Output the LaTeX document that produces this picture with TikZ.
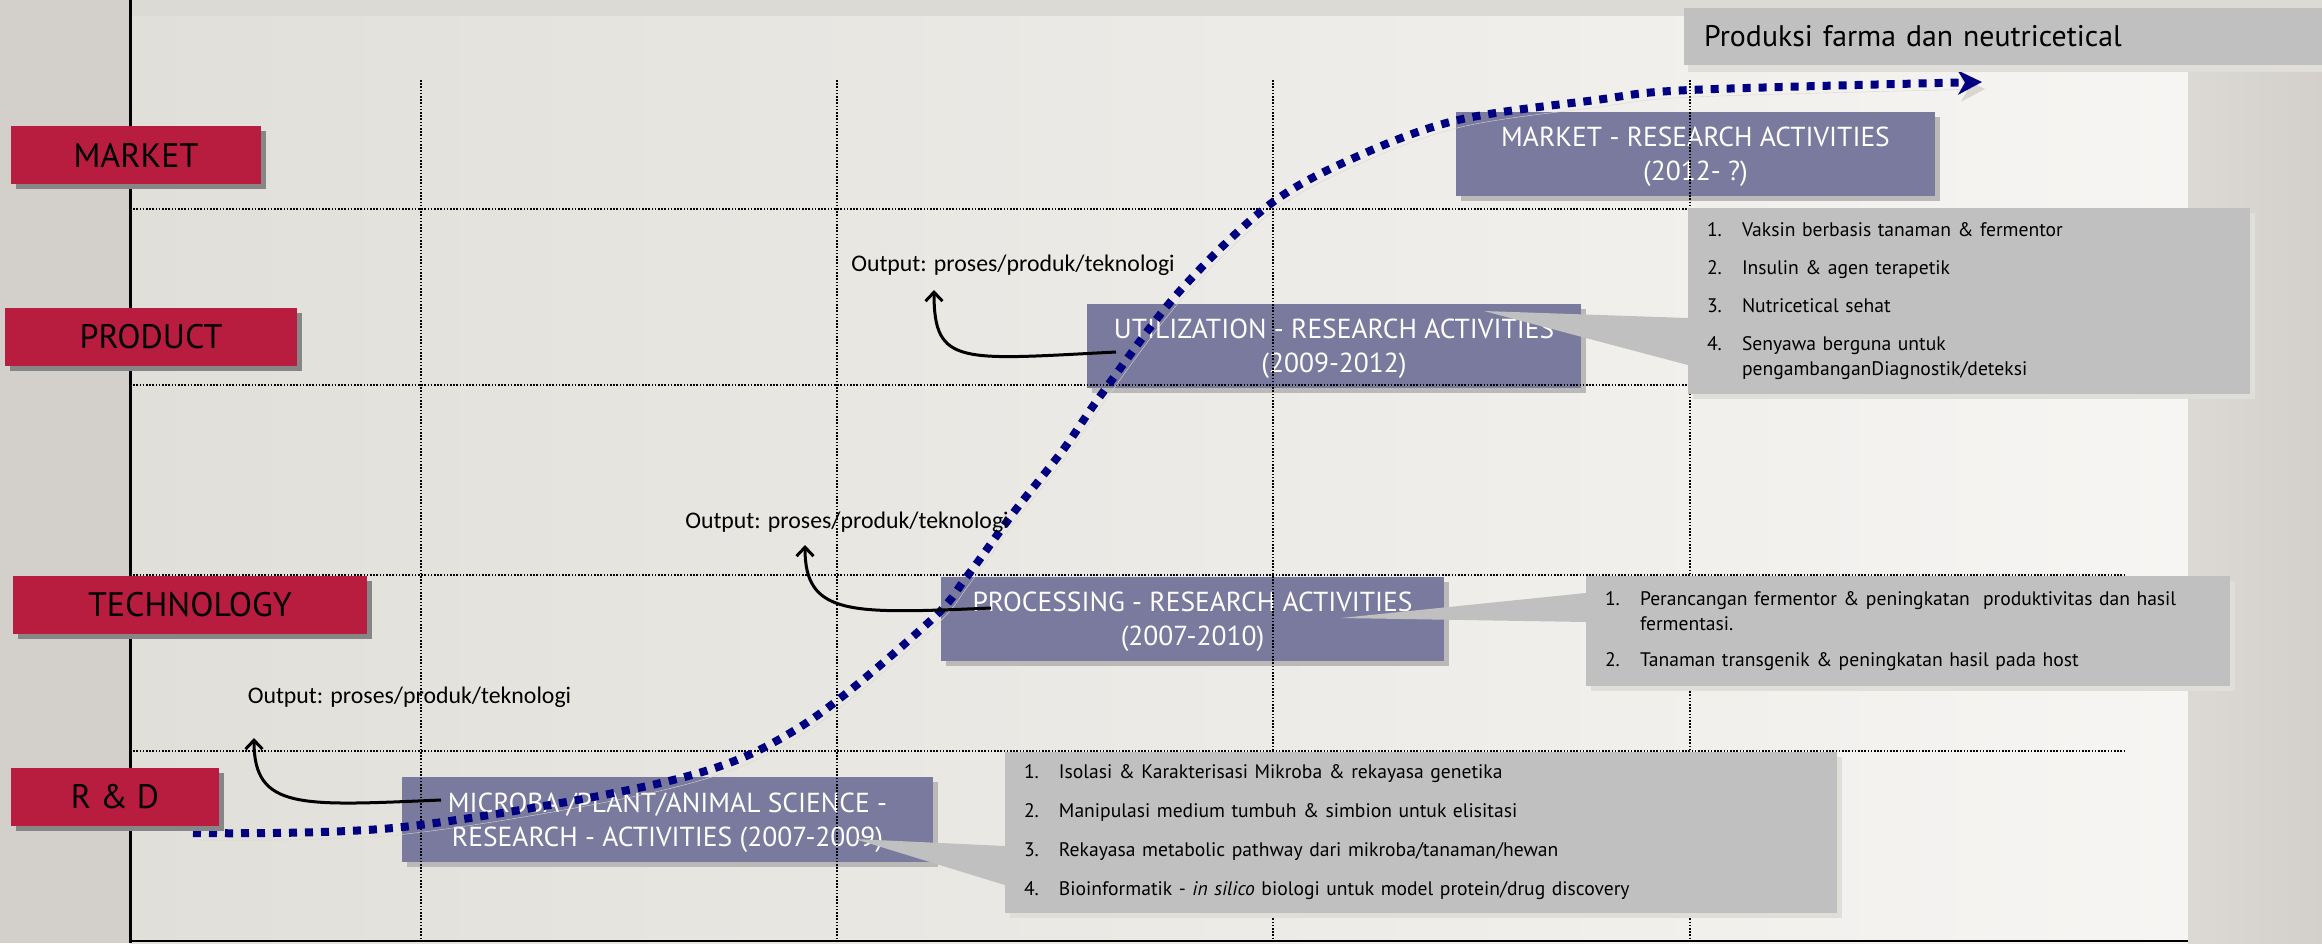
\documentclass[tikz,border=0pt]{standalone}
\usepackage{fontspec}
\setmainfont{PT Sans}
\newfontfamily\calibrifont{Carlito}
\usetikzlibrary{arrows.meta, positioning, calc, shadows}

\definecolor{stagered}{RGB}{184,29,64}
\definecolor{stageshadow}{RGB}{134,134,134}
\definecolor{actfill}{RGB}{122,122,158}
\definecolor{actshadow}{RGB}{186,185,184}
\definecolor{notefill}{RGB}{192,192,192}
\definecolor{noteshadow}{RGB}{224,222,217}
\definecolor{trendblue}{RGB}{0,0,128}
\definecolor{trendshadow}{RGB}{218,215,208}
\definecolor{bgleft}{RGB}{225,223,217}
\definecolor{bgright}{RGB}{246,245,243}
\definecolor{stripgray}{RGB}{211,208,203}
\definecolor{topband}{RGB}{220,218,213}

\newcommand{\itm}[2]{\makebox[35pt][l]{#1}#2}

\begin{document}
\begin{tikzpicture}[x=1pt, y=-1pt,
    >=Stealth,
    stage/.style={fill=stagered, inner sep=0pt, font=\fontsize{34}{34}\selectfont,
                  drop shadow={shadow xshift=5pt, shadow yshift=-5pt, fill=stageshadow, opacity=1}},
    act/.style={fill=actfill, inner sep=0pt, align=center, text=white, text depth=0pt,
                font=\fontsize{27.5}{34}\selectfont,
                drop shadow={shadow xshift=5pt, shadow yshift=-5pt, fill=actshadow, opacity=1}},
    note/.style={fill=notefill, inner xsep=19pt, inner ysep=0pt, align=left,
                 font=\fontsize{19.6}{25}\selectfont,
                 drop shadow={shadow xshift=5pt, shadow yshift=-5pt, fill=noteshadow, opacity=1}},
    outtxt/.style={font=\calibrifont\fontsize{23.8}{26}\selectfont, inner sep=0pt},
    outarr/.style={-{Straight Barb[length=9pt, width=17pt]}, line width=3pt},
    gridline/.style={line width=1.6pt, dash pattern=on 1.6pt off 1.6pt},
    trend/.style={line width=8pt, dash pattern=on 8pt off 8pt}
  ]
  \useasboundingbox (0,0) rectangle (2322,943);

  % --- background ---
  \fill[stripgray] (0,0) rectangle (130,943);
  \shade[left color=bgleft, right color=bgright] (130,16) rectangle (2188,943);
  \fill[topband] (130,0) rectangle (2322,16);
  \shade[left color=stripgray!80!white, right color=stripgray] (2188,16) rectangle (2322,943);
  \draw[line width=3pt] (130,0) -- (130,943);
  \draw[line width=2pt] (130,941) -- (2188,941);

  % --- research activities ---
  \node[act, minimum width=479pt, minimum height=84pt] (mktAct) at (1695.5,154)
    {MARKET - RESEARCH ACTIVITIES\\(2012- ?)};
  \node[act, minimum width=494pt, minimum height=84pt] (utlAct) at (1334,346)
    {UTILIZATION - RESEARCH ACTIVITIES\\(2009-2012)};
  \node[act, minimum width=503pt, minimum height=84pt] (prcAct) at (1192.5,619)
    {PROCESSING - RESEARCH ACTIVITIES\\(2007-2010)};
  \node[act, minimum width=531pt, minimum height=85pt] (micAct) at (667.5,819.5)
    {MICROBA /PLANT/ANIMAL SCIENCE -\\RESEARCH - ACTIVITIES (2007-2009)};

  % --- dotted grid ---
  \foreach \y in {209,385,575,751}
    \draw[gridline] (130,\y) -- (2124,\y);
  \foreach \x in {421,837,1273,1690}
    \draw[gridline] (\x,80) -- (\x,941);

  % --- result lists ---
  \node[note, minimum width=562pt, minimum height=186pt, text width=524pt] (utlNote) at (1969,301)
    {\itm{1.}{Vaksin berbasis tanaman \& fermentor}\\[13pt]
     \itm{2.}{Insulin \& agen terapetik}\\[13pt]
     \itm{3.}{Nutricetical sehat}\\[13pt]
     \itm{4.}{Senyawa berguna untuk}\\
     \hspace*{35pt}pengambanganDiagnostik/deteksi};
  \node[note, minimum width=644pt, minimum height=110pt, text width=606pt] (prcNote) at (1908,631)
    {\itm{1.}{Perancangan fermentor \& peningkatan\ \ produktivitas dan hasil}\\
     \hspace*{35pt}fermentasi.\\[11pt]
     \itm{2.}{Tanaman transgenik \& peningkatan hasil pada host}};
  \node[note, minimum width=832pt, minimum height=161pt, text width=794pt] (micNote) at (1421,832.5)
    {\itm{1.}{Isolasi \& Karakterisasi Mikroba \& rekayasa genetika}\\[14pt]
     \itm{2.}{Manipulasi medium tumbuh \& simbion untuk elisitasi}\\[14pt]
     \itm{3.}{Rekayasa metabolic pathway dari mikroba/tanaman/hewan}\\[14pt]
     \itm{4.}{Bioinformatik - \textit{in silico} biologi untuk model protein/drug discovery}};

  % --- callout wedges ---
  \coordinate (utlPoint) at (1484,311);
  \coordinate (prcPoint) at (1341,618);
  \coordinate (micPoint) at (855,839);
  \fill[notefill] (utlPoint) -- (utlNote.west |- 0,318) -- (utlNote.west |- 0,365) -- cycle;
  \fill[notefill] (prcPoint) -- (prcNote.west |- 0,593) -- (prcNote.west |- 0,622) -- cycle;
  \fill[notefill] (micPoint) -- (micNote.west |- 0,846) -- (micNote.west |- 0,885) -- cycle;

  % --- S-curve ---
  \draw[trend, trendblue, -{Stealth[length=24pt, width=24pt, inset=7pt]},
        preaction={draw=trendshadow, transform canvas={shift={(3pt,-7pt)}}}]
    plot[smooth, tension=0.55] coordinates {(193,833) (403,827) (673,780) (800,727) (928,623)
      (968,575) (1014,512) (1063,450) (1101,395) (1178,293) (1269,205) (1356,157)
      (1458,120) (1596,100) (1690,90) (1982,82)};

  % --- outputs ---
  \node[outtxt] (utlOut) at (1013,265) {Output: proses/produk/teknologi};
  \node[outtxt] (prcOut) at (847,522) {Output: proses/produk/teknologi};
  \node[outtxt] (micOut) at (409.5,697) {Output: proses/produk/teknologi};
  \coordinate (utlFrom) at (1116,352);
  \coordinate (prcFrom) at (991,608);
  \coordinate (micFrom) at (441,800);
  \coordinate (utlTip) at (934,290);
  \coordinate (prcTip) at (805,545);
  \coordinate (micTip) at (254,738);
  \draw[outarr] (utlFrom) .. controls (960,360) and (934,366) .. (utlTip);
  \draw[outarr] (prcFrom) .. controls (850,614) and (805,616) .. (prcTip);
  \draw[outarr] (micFrom) .. controls (300,806) and (254,810) .. (micTip);

  % --- stages ---
  \node[stage, minimum width=250pt, minimum height=58pt] (market) at (136,155) {MARKET};
  \node[stage, minimum width=292pt, minimum height=58pt] (product) at (151,337) {PRODUCT};
  \node[stage, minimum width=354pt, minimum height=58pt] (technology) at (190,605) {TECHNOLOGY};
  \node[stage, minimum width=208pt, minimum height=58pt] (rnd) at (115,797) {R \& D};

  % --- title ---
  \node[fill=notefill, anchor=west, minimum width=638pt, minimum height=57pt,
        text width=598pt, inner xsep=20pt, align=left, font=\fontsize{29.8}{29.8}\selectfont,
        drop shadow={shadow xshift=4pt, shadow yshift=-7pt, fill=noteshadow, opacity=1}]
    (prodTitle) at (1684,36.5) {Produksi farma dan neutricetical};
\end{tikzpicture}
\end{document}
